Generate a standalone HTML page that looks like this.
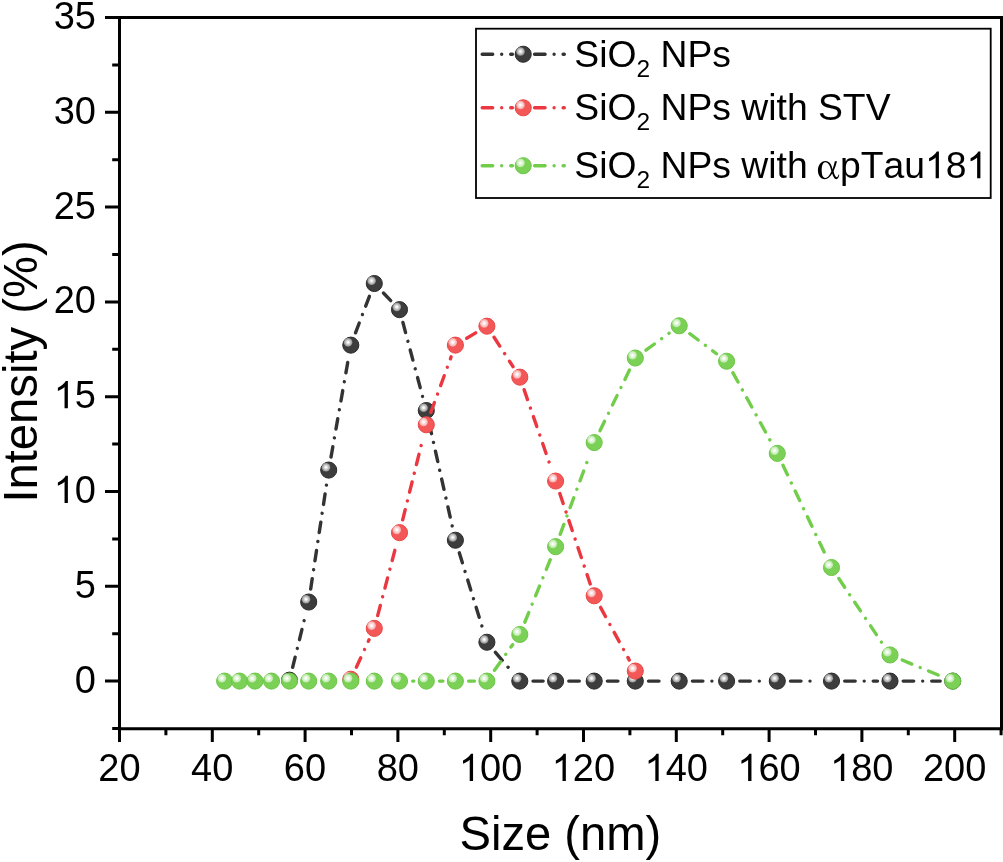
<!DOCTYPE html>
<html><head><meta charset="utf-8"><style>
html,body{margin:0;padding:0;background:#fff;}
body{width:1003px;height:862px;overflow:hidden;}
svg{display:block;will-change:transform;font-kerning:none;font-family:"Liberation Sans",sans-serif;}
</style></head><body>
<svg width="1003" height="862" viewBox="0 0 1003 862">
<defs>
<radialGradient id="hk" cx="0.5" cy="0.5" r="0.5"><stop offset="0" stop-color="#ffffff"/><stop offset="0.12" stop-color="#ffffff"/><stop offset="1" stop-color="#8c8c8c"/></radialGradient>
<g id="mk"><circle r="8.05" fill="#3d3d3d" stroke="#2b2b2b" stroke-width="1"/><circle cx="-2.7" cy="-2.8" r="4.3" fill="url(#hk)"/></g>
<radialGradient id="hr" cx="0.5" cy="0.5" r="0.5"><stop offset="0" stop-color="#ffffff"/><stop offset="0.12" stop-color="#ffffff"/><stop offset="1" stop-color="#f7a4a4"/></radialGradient>
<g id="mr"><circle r="8.05" fill="#f45757" stroke="#e94646" stroke-width="1"/><circle cx="-2.7" cy="-2.8" r="4.3" fill="url(#hr)"/></g>
<radialGradient id="hg" cx="0.5" cy="0.5" r="0.5"><stop offset="0" stop-color="#ffffff"/><stop offset="0.12" stop-color="#ffffff"/><stop offset="1" stop-color="#b5e6a0"/></radialGradient>
<g id="mg"><circle r="8.05" fill="#7ad155" stroke="#6cc648" stroke-width="1"/><circle cx="-2.7" cy="-2.8" r="4.3" fill="url(#hg)"/></g>
<path id="one" d="M763 0H583V1147Q518 1085 413 1023T223 930V1104Q374 1175 487 1276T647 1466H763Z"/>
</defs>
<rect width="1003" height="862" fill="#fff"/>
<g fill="none" stroke-width="3.4" stroke-linecap="round" stroke-dasharray="10.5 9 0.01 9"><line x1="292.65" y1="667.33" x2="305.72" y2="614.18" stroke="#333333"/><line x1="310.68" y1="588.99" x2="326.83" y2="482.43" stroke="#333333"/><line x1="331" y1="457.08" x2="348.62" y2="357.44" stroke="#333333"/><line x1="355.5" y1="332.8" x2="369.85" y2="295.19" stroke="#333333"/><line x1="383.46" y1="293.02" x2="390.83" y2="300.67" stroke="#333333"/><line x1="402.89" y1="322.43" x2="423.09" y2="398.46" stroke="#333333"/><line x1="429.19" y1="423.42" x2="452.66" y2="528.03" stroke="#333333"/><line x1="459.29" y1="552.84" x2="483.21" y2="630.29" stroke="#333333"/><line x1="495.43" y1="652.31" x2="511.72" y2="671.56" stroke="#333333"/><line x1="533" y1="681.1" x2="543.1" y2="681.1" stroke="#333333"/><line x1="568.8" y1="681.1" x2="581.7" y2="681.1" stroke="#333333"/><line x1="607.4" y1="681.1" x2="622.8" y2="681.1" stroke="#333333"/><line x1="648.5" y1="681.1" x2="666.7" y2="681.1" stroke="#333333"/><line x1="692.4" y1="681.1" x2="714.1" y2="681.1" stroke="#333333"/><line x1="739.8" y1="681.1" x2="764.8" y2="681.1" stroke="#333333"/><line x1="790.5" y1="681.1" x2="819" y2="681.1" stroke="#333333"/><line x1="844.7" y1="681.1" x2="877.5" y2="681.1" stroke="#333333"/><line x1="903.2" y1="681.1" x2="940.2" y2="681.1" stroke="#333333"/></g>
<g><use href="#mk" x="289.5" y="680.15"/><use href="#mk" x="308.7" y="602.04"/><use href="#mk" x="328.7" y="470.08"/><use href="#mk" x="350.8" y="345.13"/><use href="#mk" x="374.3" y="283.51"/><use href="#mk" x="399.5" y="309.67"/><use href="#mk" x="426.3" y="410.54"/><use href="#mk" x="455.4" y="540.23"/><use href="#mk" x="486.9" y="642.23"/><use href="#mk" x="519.8" y="681.1"/><use href="#mk" x="555.6" y="681.1"/><use href="#mk" x="594.2" y="681.1"/><use href="#mk" x="635.3" y="681.1"/><use href="#mk" x="679.2" y="681.1"/><use href="#mk" x="726.6" y="681.1"/><use href="#mk" x="777.3" y="681.1"/><use href="#mk" x="831.5" y="681.1"/><use href="#mk" x="890" y="681.1"/><use href="#mk" x="952.7" y="681.1"/></g>
<g fill="none" stroke-width="3.4" stroke-linecap="round" stroke-dasharray="10.5 9 0.01 9"><line x1="356.34" y1="667.22" x2="369.05" y2="639.74" stroke="#eb3840"/><line x1="377.66" y1="615.63" x2="396.32" y2="544.73" stroke="#eb3840"/><line x1="402.68" y1="519.83" x2="423.29" y2="436.89" stroke="#eb3840"/><line x1="430.83" y1="412.36" x2="451.11" y2="356.87" stroke="#eb3840"/><line x1="466.71" y1="338.32" x2="476.19" y2="332.61" stroke="#eb3840"/><line x1="494.06" y1="337.26" x2="513.02" y2="366.67" stroke="#eb3840"/><line x1="524.1" y1="389.65" x2="551.53" y2="469.25" stroke="#eb3840"/><line x1="559.81" y1="493.58" x2="590.21" y2="583.93" stroke="#eb3840"/><line x1="600.53" y1="607.37" x2="629.31" y2="660.08" stroke="#eb3840"/></g>
<g><use href="#mr" x="350.8" y="679.2"/><use href="#mr" x="374.3" y="628.39"/><use href="#mr" x="399.5" y="532.64"/><use href="#mr" x="426.3" y="424.76"/><use href="#mr" x="455.4" y="345.13"/><use href="#mr" x="486.9" y="326.17"/><use href="#mr" x="519.8" y="377.17"/><use href="#mr" x="555.6" y="481.07"/><use href="#mr" x="594.2" y="595.78"/><use href="#mr" x="635.3" y="671.05"/></g>
<g fill="none" stroke-width="3.4" stroke-linecap="round" stroke-dasharray="10.5 9 0.01 9"><line x1="412.7" y1="681.1" x2="413.8" y2="681.1" stroke="#72cd4a"/><line x1="439.5" y1="681.1" x2="442.9" y2="681.1" stroke="#72cd4a"/><line x1="468.6" y1="681.1" x2="474.4" y2="681.1" stroke="#72cd4a"/><line x1="494.51" y1="670.31" x2="512.59" y2="644.67" stroke="#72cd4a"/><line x1="524.78" y1="622.24" x2="550.88" y2="558.25" stroke="#72cd4a"/><line x1="560.19" y1="534.3" x2="589.85" y2="454.3" stroke="#72cd4a"/><line x1="599.97" y1="430.71" x2="629.84" y2="369.26" stroke="#72cd4a"/><line x1="645.94" y1="350.21" x2="669.12" y2="333.19" stroke="#72cd4a"/><line x1="689.77" y1="333.7" x2="716.59" y2="353.76" stroke="#72cd4a"/><line x1="732.96" y1="372.81" x2="771.27" y2="442.44" stroke="#72cd4a"/><line x1="782.96" y1="465.31" x2="826.14" y2="556.24" stroke="#72cd4a"/><line x1="838.84" y1="578.5" x2="883.05" y2="644.55" stroke="#72cd4a"/><line x1="902.18" y1="660.02" x2="941.16" y2="676.29" stroke="#72cd4a"/></g>
<g><use href="#mg" x="224.6" y="681.1"/><use href="#mg" x="239.5" y="681.1"/><use href="#mg" x="254.94" y="681.1"/><use href="#mg" x="271.5" y="681.1"/><use href="#mg" x="289.5" y="681.1"/><use href="#mg" x="308.7" y="681.1"/><use href="#mg" x="328.7" y="681.1"/><use href="#mg" x="350.8" y="681.1"/><use href="#mg" x="374.3" y="681.1"/><use href="#mg" x="399.5" y="681.1"/><use href="#mg" x="426.3" y="681.1"/><use href="#mg" x="455.4" y="681.1"/><use href="#mg" x="486.9" y="681.1"/><use href="#mg" x="519.8" y="634.46"/><use href="#mg" x="555.6" y="546.67"/><use href="#mg" x="594.2" y="442.58"/><use href="#mg" x="635.3" y="358.02"/><use href="#mg" x="679.2" y="325.79"/><use href="#mg" x="726.6" y="361.24"/><use href="#mg" x="777.3" y="453.39"/><use href="#mg" x="831.5" y="567.53"/><use href="#mg" x="890" y="654.94"/><use href="#mg" x="952.7" y="681.1"/></g>
<path d="M119.5 17.6H1001.5V728.8H119.5Z" fill="none" stroke="#000" stroke-width="3.0" stroke-linejoin="miter"/><path d="M105.0 681.1H119.5M105.0 586.3H119.5M105.0 491.5H119.5M105.0 396.7H119.5M105.0 301.9H119.5M105.0 207.1H119.5M105.0 112.3H119.5M105.0 17.5H119.5M112.2 728.5H119.5M112.2 633.7H119.5M112.2 538.9H119.5M112.2 444.1H119.5M112.2 349.3H119.5M112.2 254.5H119.5M112.2 159.7H119.5M112.2 64.9H119.5M119.5 728.8V742.0M212.3 728.8V742.0M305.1 728.8V742.0M397.9 728.8V742.0M490.7 728.8V742.0M583.5 728.8V742.0M676.3 728.8V742.0M769.1 728.8V742.0M861.9 728.8V742.0M954.7 728.8V742.0M165.9 728.8V735.3M258.7 728.8V735.3M351.5 728.8V735.3M444.3 728.8V735.3M537.1 728.8V735.3M629.9 728.8V735.3M722.7 728.8V735.3M815.5 728.8V735.3M908.3 728.8V735.3M1001.1 728.8V735.3" stroke="#000" stroke-width="3.0"/>
<g font-size="38" fill="#000"><text x="74.87" y="692.6">0</text><text x="74.87" y="597.8">5</text><use href="#one" transform="translate(53.73 503) scale(0.018555 -0.018555)"/><text x="74.87" y="503">0</text><use href="#one" transform="translate(53.73 408.2) scale(0.018555 -0.018555)"/><text x="74.87" y="408.2">5</text><text x="53.73" y="313.4">2</text><text x="74.87" y="313.4">0</text><text x="53.73" y="218.6">2</text><text x="74.87" y="218.6">5</text><text x="53.73" y="123.8">3</text><text x="74.87" y="123.8">0</text><text x="53.73" y="29">3</text><text x="74.87" y="29">5</text><text x="98.27" y="781">2</text><text x="119.4" y="781">0</text><text x="191.07" y="781">4</text><text x="212.2" y="781">0</text><text x="283.87" y="781">6</text><text x="305" y="781">0</text><text x="376.67" y="781">8</text><text x="397.8" y="781">0</text><use href="#one" transform="translate(458.9 781) scale(0.018555 -0.018555)"/><text x="480.03" y="781">0</text><text x="501.17" y="781">0</text><use href="#one" transform="translate(551.7 781) scale(0.018555 -0.018555)"/><text x="572.83" y="781">2</text><text x="593.97" y="781">0</text><use href="#one" transform="translate(644.5 781) scale(0.018555 -0.018555)"/><text x="665.63" y="781">4</text><text x="686.77" y="781">0</text><use href="#one" transform="translate(737.3 781) scale(0.018555 -0.018555)"/><text x="758.43" y="781">6</text><text x="779.57" y="781">0</text><use href="#one" transform="translate(830.1 781) scale(0.018555 -0.018555)"/><text x="851.23" y="781">8</text><text x="872.37" y="781">0</text><text x="922.9" y="781">2</text><text x="944.03" y="781">0</text><text x="965.17" y="781">0</text></g>
<text x="560.4" y="850" font-size="47.2" text-anchor="middle">Size (nm)</text>
<text transform="translate(36.5 371.5) rotate(-90)" font-size="47.2" text-anchor="middle">Intensity (%)</text>
<rect x="476" y="28.7" width="514.7" height="169.3" fill="#fff" stroke="#000" stroke-width="1.8"/>
<g fill="none" stroke="#333333" stroke-width="3.4" stroke-linecap="round" stroke-dasharray="10.5 9 0.01 9"><line x1="482.20000000000005" y1="54.25" x2="512.4000000000001" y2="54.25"/><line x1="534.6" y1="54.25" x2="564.3000000000001" y2="54.25"/></g>
<use href="#mk" x="523.2" y="54.25"/>
<text x="574.3" y="66.85" font-size="37.3">SiO<tspan font-size="24.5" dy="9.7">2</tspan><tspan dy="-9.7"> NPs</tspan></text>
<g fill="none" stroke="#eb3840" stroke-width="3.4" stroke-linecap="round" stroke-dasharray="10.5 9 0.01 9"><line x1="482.20000000000005" y1="107.8" x2="512.4000000000001" y2="107.8"/><line x1="534.6" y1="107.8" x2="564.3000000000001" y2="107.8"/></g>
<use href="#mr" x="523.2" y="107.8"/>
<text x="574.3" y="120.4" font-size="37.3">SiO<tspan font-size="24.5" dy="9.7">2</tspan><tspan dy="-9.7"> NPs with STV</tspan></text>
<g fill="none" stroke="#72cd4a" stroke-width="3.4" stroke-linecap="round" stroke-dasharray="10.5 9 0.01 9"><line x1="482.20000000000005" y1="165.7" x2="512.4000000000001" y2="165.7"/><line x1="534.6" y1="165.7" x2="564.3000000000001" y2="165.7"/></g>
<use href="#mg" x="523.2" y="165.7"/>
<text x="574.3" y="178.3" font-size="37.3">SiO<tspan font-size="24.5" dy="9.7">2</tspan><tspan dy="-9.7"> NPs with</tspan></text>
<path d="M825.4 160.9C821 160.9 817.9 165.2 817.9 170.3C817.9 175.4 820.6 179.2 824.8 179.2C828 179.2 830.3 176.6 832.2 173.6C833.2 176.9 834.4 179.2 836.3 179.2C837.8 179.2 838.8 177.5 839.3 174.8L838.6 174.6C838.2 176.1 837.6 177.2 836.8 177.2C835.5 177.2 834.4 174.8 833.6 171.2C834.9 168.3 836.1 164.8 837 161.3L834.8 161.3C834.2 164.3 833.3 167.2 832.5 169.5C831.9 164.6 829.6 160.9 825.4 160.9ZM825.2 162.2C828.8 162.2 830.4 166.7 831.4 171.3C829.9 174.7 828 177.9 825.3 177.9C822.6 177.9 821.7 174.4 821.7 170.2C821.7 165.9 822.7 162.2 825.2 162.2Z" fill="#000" fill-rule="evenodd"/>
<text x="840" y="178.3" font-size="37.3">pTau</text>
<g font-size="37.3"><use href="#one" transform="translate(925.02 178.3) scale(0.018213 -0.018213)"/><text x="945.76" y="178.3">8</text><use href="#one" transform="translate(966.51 178.3) scale(0.018213 -0.018213)"/></g>
</svg></body></html>
